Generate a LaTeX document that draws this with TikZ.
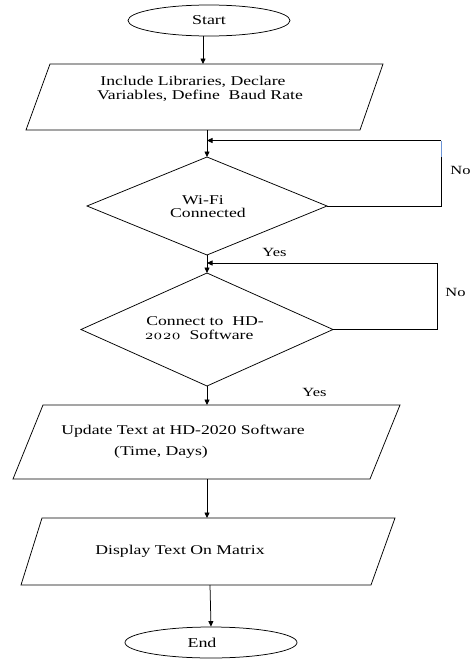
\documentclass[tikz,border=0pt]{standalone}
\usepackage{fontspec}
\setmainfont{Liberation Serif}[FakeStretch=1.32]
\newfontfamily\osf{lmroman10-regular.otf}[Numbers=OldStyle,FakeStretch=1.2]
\usetikzlibrary{arrows.meta,shapes.geometric}
\definecolor{glitch}{RGB}{110,150,215}
\begin{document}
\begin{tikzpicture}[x=1pt,y=-1pt,line width=0.75pt,
  flow/.style={-{Triangle[length=5.5pt,width=5pt]}},
  txt/.style={font=\fontsize{13.4}{15}\selectfont,inner sep=0pt},
  lbl/.style={font=\fontsize{12.5}{14}\selectfont,inner sep=0pt,anchor=west},
  term/.style={draw,ellipse,inner sep=0pt,font=\fontsize{13.6}{15}\selectfont}]
\useasboundingbox (0,0) rectangle (474,659);
% terminals
\node[term,minimum width=162pt,minimum height=31pt] (start) at (209,20.5) {Start};
\node[term,minimum width=172pt,minimum height=31pt] (end) at (211,642.5) {\hspace*{-18pt}End};
% parallelogram 1
\draw (50,64) -- (383,64) -- (360,130) -- (26,130) -- cycle;
\coordinate (p1t) at (203,64);
\coordinate (p1b) at (207,130);
\node[txt] (p1a) at (193,81.5) {Include Libraries, Declare};
\node[txt] (p1c) at (200,95.5) {Variables, Define\ \ Baud Rate};
% diamond 1
\draw (207,157) -- (327,206) -- (207,255) -- (87,206) -- cycle;
\coordinate (d1t) at (207,157);
\coordinate (d1r) at (327,206);
\coordinate (d1b) at (207,255);
\node[txt] (d1a) at (203,200) {Wi-Fi};
\node[txt] (d1c) at (208,212.5) {Connected};
% diamond 2
\draw (207,273) -- (333,329.5) -- (207,386) -- (81,329.5) -- cycle;
\coordinate (d2t) at (207,273);
\coordinate (d2r) at (333,329.5);
\coordinate (d2b) at (207,386);
\node[txt] (d2a) at (205,321) {Connect to\ \ HD-};
\node[txt] (d2c) at (199,335) {{\osf 2020}\ \ Software};
% parallelogram 3
\draw (43,405) -- (400,405) -- (370,479) -- (13,479) -- cycle;
\coordinate (p3t) at (207,405);
\coordinate (p3b) at (207,479);
\node[txt] (p3a) at (183,431) {Update Text at HD-2020 Software};
\node[txt] (p3c) at (161,452) {(Time, Days)};
% parallelogram 4
\draw (42,518) -- (395,518) -- (371,585) -- (21,585) -- cycle;
\coordinate (p4t) at (207,518);
\coordinate (p4b) at (210,585);
\node[txt] (p4a) at (180,551) {Display Text On Matrix};
% main flow
\draw[flow] (start.south -| p1t) -- (p1t);
\draw[flow] (p1b) -- (d1t);
\draw[flow] (d1b) -- (d2t);
\draw[flow] (d2b) -- (p3t);
\draw[flow] (p3b) -- (p4t);
\draw[flow] (p4b) -- (end.north);
% loop 1
\coordinate (l1a) at (441,206);
\coordinate (l1m) at (441,157);
\coordinate (l1b) at (441,140.5);
\coordinate (l1e) at (207,140.5);
\draw (d1r) -- (l1a) -- (l1m);
\draw[glitch] (l1m) -- (l1b);
\draw[flow] (l1b) -- (l1e);
\node[lbl] (no1) at (450,170) {No};
% loop 2
\coordinate (l2a) at (437,329.5);
\coordinate (l2b) at (437,263);
\coordinate (l2e) at (207,263);
\draw[flow] (d2r) -- (l2a) -- (l2b) -- (l2e);
\node[lbl] (no2) at (445,292.5) {No};
% yes labels
\node[lbl,anchor=center] (yes1) at (274.5,252) {Yes};
\node[lbl,anchor=center] (yes2) at (314.5,392) {Yes};
\end{tikzpicture}
\end{document}
